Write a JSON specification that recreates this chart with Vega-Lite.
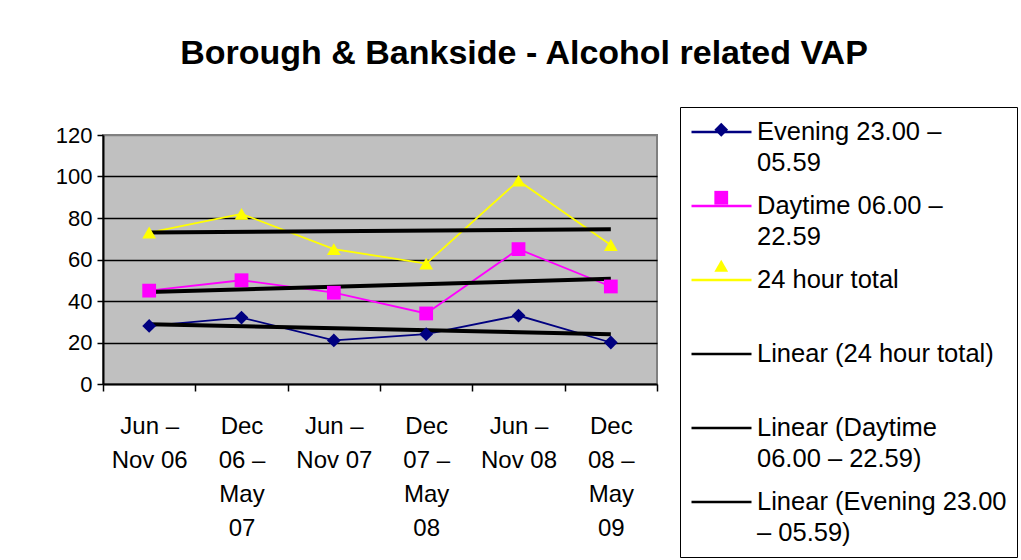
{
  "$schema": "https://vega.github.io/schema/vega-lite/v6.json",
  "width": 554,
  "height": 249,
  "autosize": {"type": "none"},
  "padding": {"left": 103, "top": 135, "right": 364, "bottom": 176},
  "background": "white",
  "config": {
    "font": "Liberation Sans",
    "view": {"fill": "#C0C0C0", "stroke": "#808080", "strokeWidth": 2}
  },
  "title": {
    "text": "Borough & Bankside - Alcohol related VAP",
    "font": "Liberation Sans",
    "fontSize": 34,
    "fontWeight": "bold",
    "color": "black",
    "anchor": "middle",
    "frame": "group",
    "dx": 144,
    "offset": 36
  },
  "data": {
    "values": [
      {"period": "Jun – Nov 06", "series": "Evening 23.00 – 05.59", "value": 28},
      {"period": "Dec 06 – May 07", "series": "Evening 23.00 – 05.59", "value": 32},
      {"period": "Jun – Nov 07", "series": "Evening 23.00 – 05.59", "value": 21},
      {"period": "Dec 07 – May 08", "series": "Evening 23.00 – 05.59", "value": 24},
      {"period": "Jun – Nov 08", "series": "Evening 23.00 – 05.59", "value": 33},
      {"period": "Dec 08 – May 09", "series": "Evening 23.00 – 05.59", "value": 20},
      {"period": "Jun – Nov 06", "series": "Daytime 06.00 – 22.59", "value": 45},
      {"period": "Dec 06 – May 07", "series": "Daytime 06.00 – 22.59", "value": 50},
      {"period": "Jun – Nov 07", "series": "Daytime 06.00 – 22.59", "value": 44},
      {"period": "Dec 07 – May 08", "series": "Daytime 06.00 – 22.59", "value": 34},
      {"period": "Jun – Nov 08", "series": "Daytime 06.00 – 22.59", "value": 65},
      {"period": "Dec 08 – May 09", "series": "Daytime 06.00 – 22.59", "value": 47},
      {"period": "Jun – Nov 06", "series": "24 hour total", "value": 73},
      {"period": "Dec 06 – May 07", "series": "24 hour total", "value": 82},
      {"period": "Jun – Nov 07", "series": "24 hour total", "value": 65},
      {"period": "Dec 07 – May 08", "series": "24 hour total", "value": 58},
      {"period": "Jun – Nov 08", "series": "24 hour total", "value": 98},
      {"period": "Dec 08 – May 09", "series": "24 hour total", "value": 67},
      {"period": "Jun – Nov 06", "series": "Linear (24 hour total)", "value": 73.05},
      {"period": "Dec 08 – May 09", "series": "Linear (24 hour total)", "value": 74.6},
      {"period": "Jun – Nov 06", "series": "Linear (Daytime 06.00 – 22.59)", "value": 44.3},
      {"period": "Dec 08 – May 09", "series": "Linear (Daytime 06.00 – 22.59)", "value": 50.7},
      {"period": "Jun – Nov 06", "series": "Linear (Evening 23.00 – 05.59)", "value": 28.8},
      {"period": "Dec 08 – May 09", "series": "Linear (Evening 23.00 – 05.59)", "value": 24.0}
    ]
  },
  "encoding": {
    "x": {
      "field": "period",
      "type": "nominal",
      "sort": null,
      "scale": {
        "type": "band",
        "domain": ["Jun – Nov 06", "Dec 06 – May 07", "Jun – Nov 07", "Dec 07 – May 08", "Jun – Nov 08", "Dec 08 – May 09"],
        "paddingInner": 0,
        "paddingOuter": 0
      },
      "axis": {
        "title": null,
        "labelAngle": 0,
        "labelAlign": "center",
        "labelBaseline": "top",
        "labelFontSize": 24,
        "labelLineHeight": 34,
        "labelColor": "black",
        "labelPadding": 23,
        "labelOverlap": false,
        "labelBound": false,
        "tickBand": "extent",
        "tickSize": 7,
        "tickColor": "black",
        "tickWidth": 1.5,
        "domainColor": "black",
        "domainWidth": 2,
        "grid": false,
        "labelExpr": "datum.value == 'Jun – Nov 06' ? ['Jun –', 'Nov 06'] : datum.value == 'Dec 06 – May 07' ? ['Dec', '06 –', 'May', '07'] : datum.value == 'Jun – Nov 07' ? ['Jun –', 'Nov 07'] : datum.value == 'Dec 07 – May 08' ? ['Dec', '07 –', 'May', '08'] : datum.value == 'Jun – Nov 08' ? ['Jun –', 'Nov 08'] : datum.value == 'Dec 08 – May 09' ? ['Dec', '08 –', 'May', '09'] : ''"
      }
    },
    "y": {
      "field": "value",
      "type": "quantitative",
      "scale": {"domain": [0, 120], "nice": false, "zero": true},
      "axis": {
        "title": null,
        "values": [0, 20, 40, 60, 80, 100, 120],
        "labelFontSize": 22,
        "labelColor": "black",
        "labelPadding": 5,
        "tickSize": 6,
        "tickColor": "black",
        "tickWidth": 1.5,
        "domainColor": "black",
        "domainWidth": 2,
        "grid": true,
        "gridColor": {"condition": {"test": "datum.value == 120 || datum.value == 0", "value": "#808080"}, "value": "black"},
        "gridWidth": 1.5,
        "gridOpacity": 1
      }
    },
    "color": {
      "field": "series",
      "type": "nominal",
      "scale": {
        "domain": ["Evening 23.00 – 05.59", "Daytime 06.00 – 22.59", "24 hour total", "Linear (24 hour total)", "Linear (Daytime 06.00 – 22.59)", "Linear (Evening 23.00 – 05.59)"],
        "range": ["#000080", "#FF00FF", "#FFFF00", "#000000", "#000000", "#000000"]
      },
      "legend": {
        "orient": "none",
        "legendX": 577,
        "legendY": -28,
        "title": null,
        "padding": 10,
        "strokeColor": "black",
        "fillColor": "white",
        "symbolType": "stroke",
        "symbolSize": 3600,
        "symbolStrokeWidth": 2.5,
        "labelFont": "Liberation Sans",
        "labelFontSize": 25.5,
        "labelColor": "black",
        "labelOffset": 4,
        "labelLimit": 400,
        "rowPadding": 14,
        "labelExpr": "datum.value == 'Evening 23.00 – 05.59' ? ['Evening 23.00 –', '05.59'] : datum.value == 'Daytime 06.00 – 22.59' ? ['Daytime 06.00 –', '22.59'] : datum.value == '24 hour total' ? ['24 hour total', ' '] : datum.value == 'Linear (24 hour total)' ? ['Linear (24 hour total)', ' '] : datum.value == 'Linear (Daytime 06.00 – 22.59)' ? ['Linear (Daytime', '06.00 – 22.59)'] : ['Linear (Evening 23.00', '– 05.59)']",
        "encode": {
          "labels": {"update": {"lineHeight": {"value": 31}, "y": {"value": 15}}},
          "symbols": {"update": {"y": {"value": 15}}}
        }
      }
    }
  },
  "layer": [
    {
      "transform": [{"filter": "indexof(datum.series, 'Linear') < 0"}],
      "mark": {"type": "line", "strokeWidth": 1.8}
    },
    {
      "transform": [{"filter": "indexof(datum.series, 'Linear') == 0"}],
      "mark": {"type": "line", "strokeWidth": 4}
    },
    {
      "transform": [{"filter": "indexof(datum.series, 'Linear') < 0"}],
      "mark": {"type": "point", "filled": true, "opacity": 1, "size": 190},
      "encoding": {
        "fill": {
          "field": "series",
          "type": "nominal",
          "scale": {
            "domain": ["Evening 23.00 – 05.59", "Daytime 06.00 – 22.59", "24 hour total"],
            "range": ["#000080", "#FF00FF", "#FFFF00"]
          },
          "legend": {
            "orient": "none",
            "legendX": 577,
            "legendY": -28,
            "title": null,
            "padding": 10,
            "zindex": 1,
            "symbolSize": 190,
            "symbolStrokeWidth": 0,
            "symbolOffset": 18.5,
            "labelFont": "Liberation Sans",
            "labelFontSize": 25.5,
            "labelLimit": 400,
            "rowPadding": 14,
            "labelExpr": "datum.value == '24 hour total' ? [' ', ' '] : [' ', ' ']",
            "encode": {
              "labels": {"update": {"lineHeight": {"value": 31}, "y": {"value": 15}}},
              "symbols": {"update": {"y": {"value": 15}, "opacity": {"value": 1}}}
            }
          }
        },
        "shape": {
          "field": "series",
          "type": "nominal",
          "scale": {
            "domain": ["Evening 23.00 – 05.59", "Daytime 06.00 – 22.59", "24 hour total"],
            "range": ["diamond", "square", "triangle-up"]
          },
          "legend": {
            "orient": "none",
            "legendX": 577,
            "legendY": -28,
            "title": null,
            "padding": 10,
            "zindex": 1,
            "symbolSize": 190,
            "symbolStrokeWidth": 0,
            "symbolOffset": 18.5,
            "labelFont": "Liberation Sans",
            "labelFontSize": 25.5,
            "labelLimit": 400,
            "rowPadding": 14,
            "labelExpr": "datum.value == '24 hour total' ? [' ', ' '] : [' ', ' ']",
            "encode": {
              "labels": {"update": {"lineHeight": {"value": 31}, "y": {"value": 15}}},
              "symbols": {"update": {"y": {"value": 15}, "opacity": {"value": 1}}}
            }
          }
        }
      }
    }
  ]
}
